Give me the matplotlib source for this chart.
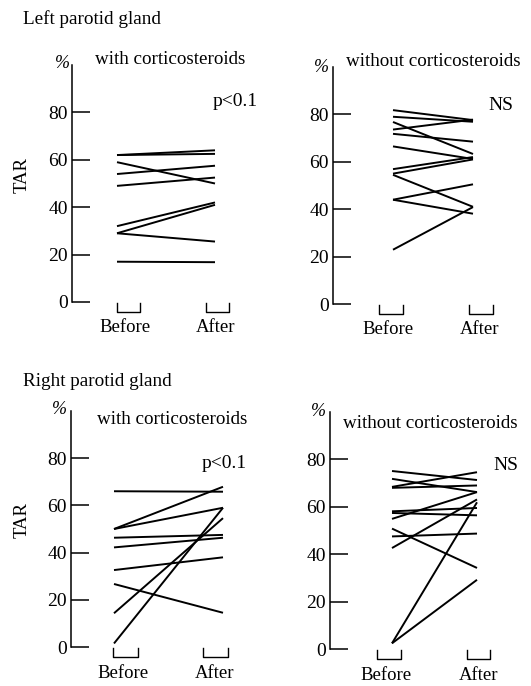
import matplotlib
matplotlib.use('Agg')
import matplotlib.pyplot as plt
from matplotlib.lines import Line2D

plt.rcParams['font.family'] = ['Liberation Serif', 'DejaVu Serif']

# datos (TAR %)
categorias = ['Before', 'After']
yticks = [0, 20, 40, 60, 80]

izq_con_antes = [62, 62, 59, 54, 49, 32, 29, 29, 17]
izq_con_despues = [64, 62.5, 50, 57.5, 52.5, 42, 41, 25.5, 16.8]

izq_sin_antes = [81.8, 79, 76.8, 73.6, 71.8, 66.5, 56.9, 55, 54.5, 44, 44, 22.9]
izq_sin_despues = [77.6, 76.9, 63.3, 77.8, 68.5, 61.2, 62, 61, 41, 50.5, 38.1, 40.9]

der_con_antes = [66, 50, 50, 46.3, 42.2, 32.6, 26.7, 14.3, 1.5]
der_con_despues = [65.8, 67.9, 59, 47.5, 46.3, 38, 14.5, 54.6, 59]

der_sin_antes = [75.1, 71.8, 68.4, 68.0, 58.1, 57.4, 54.9, 50.8, 47.5, 42.6, 2.4, 2.4]
der_sin_despues = [71.3, 66.2, 74.6, 69.0, 59.5, 56.4, 66.2, 34.2, 48.7, 63.1, 61.9, 29.2]

W, H = 531, 686
fig = plt.figure(figsize=(W / 100, H / 100), dpi=100)


def px(x, y):
    return x / W, 1 - y / H


# layout en pixeles: eje y, posicion antes/despues, cero, tope, corchetes, etiquetas
paneles = [
    dict(antes=izq_con_antes, despues=izq_con_despues, eje=72, xa=117, xd=215, y0=302, ytop=65,
         br1=(117, 140), br2=(206, 229), lab=(125, 216), laby=328,
         titulo='with corticosteroids', tpos=(95, 59), sig='p<0.1', spos=(213, 102),
         pct=(62, 63), tar=True),
    dict(antes=izq_sin_antes, despues=izq_sin_despues, eje=333, xa=393, xd=473, y0=304, ytop=67,
         br1=(379, 403), br2=(469, 493), lab=(388, 480), laby=330,
         titulo='without corticosteroids', tpos=(346, 62), sig='NS', spos=(488, 105),
         pct=(321, 68), tar=False),
    dict(antes=der_con_antes, despues=der_con_despues, eje=71, xa=114, xd=223, y0=647, ytop=411,
         br1=(113, 138), br2=(203, 228), lab=(123, 215), laby=673,
         titulo='with corticosteroids', tpos=(97, 420), sig='p<0.1', spos=(202, 463),
         pct=(59, 410), tar=True),
    dict(antes=der_sin_antes, despues=der_sin_despues, eje=330, xa=392, xd=477, y0=649, ytop=412,
         br1=(377, 401), br2=(467, 490), lab=(386, 479), laby=675,
         titulo='without corticosteroids', tpos=(343, 423), sig='NS', spos=(493, 465),
         pct=(318, 412), tar=False),
]

for p in paneles:
    unidad = p['xd'] - p['xa']
    ancho = 190
    izq, abajo = px(p['eje'], p['y0'])
    ax = fig.add_axes([izq, abajo, ancho / W, (p['y0'] - p['ytop']) / H])
    ax.patch.set_alpha(0)
    x0 = -(p['xa'] - p['eje']) / unidad
    ax.set_xlim(x0, x0 + ancho / unidad)
    ax.set_ylim(0, 100)

    for a, d in zip(p['antes'], p['despues']):
        ax.plot([0, 1], [a, d], color='black', lw=1.4, solid_capstyle='butt')

    for lado in ['top', 'right', 'bottom']:
        ax.spines[lado].set_visible(False)
    ax.spines['left'].set_linewidth(1.1)
    ax.set_xticks([])
    ax.set_yticks(yticks)
    ax.tick_params(axis='y', direction='in', length=13, width=1.1, pad=3, labelsize=14)

    # corchetes bajo cada grupo
    for bx in (p['br1'], p['br2']):
        xs = [bx[0], bx[0], bx[1], bx[1]]
        ys = [p['y0'] + 1, p['y0'] + 10, p['y0'] + 10, p['y0'] + 1]
        fig.add_artist(Line2D([x / W for x in xs], [1 - y / H for y in ys],
                              color='black', lw=1.0))
    for cx, nombre in zip(p['lab'], categorias):
        fig.text(*px(cx, p['laby']), nombre, ha='center', va='center', fontsize=13.5)

    fig.text(*px(*p['tpos']), p['titulo'], ha='left', va='center', fontsize=13.7)
    fig.text(*px(*p['spos']), p['sig'], ha='left', va='center', fontsize=14)
    fig.text(*px(*p['pct']), '%', ha='center', va='center', fontsize=13, style='italic')
    if p['tar']:
        yc = p['y0'] - 127
        fig.text(*px(22, yc), 'TAR', ha='center', va='center', rotation=90, fontsize=13.5)

fig.text(*px(23, 19), 'Left parotid gland', ha='left', va='center', fontsize=13.8)
fig.text(*px(23, 382), 'Right parotid gland', ha='left', va='center', fontsize=13.8)

plt.savefig('out.png', dpi=100, facecolor='white')
